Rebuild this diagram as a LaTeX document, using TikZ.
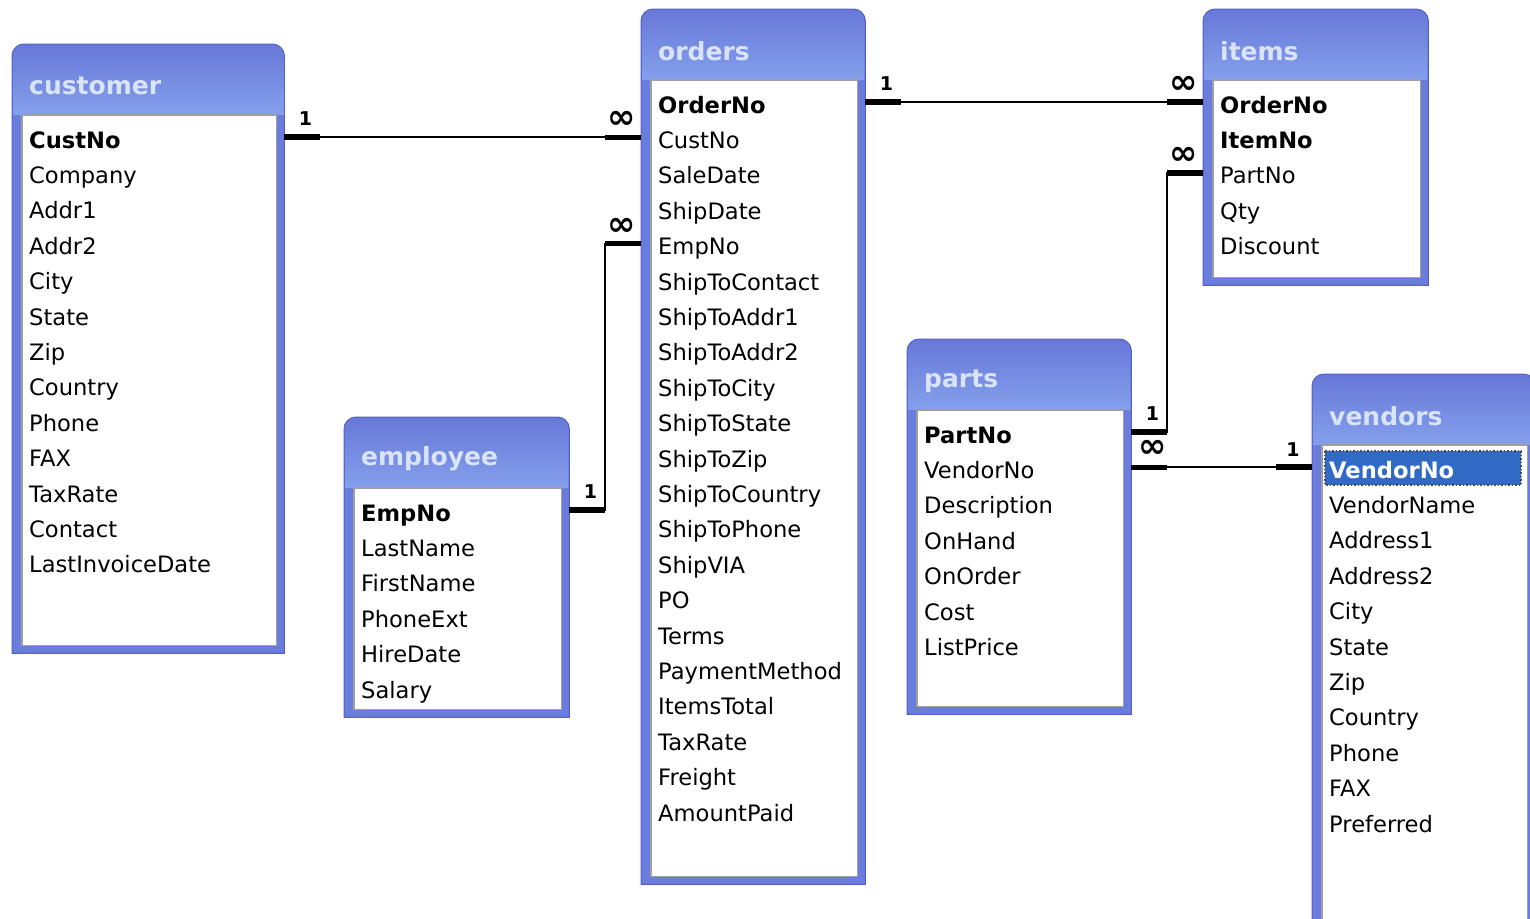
\documentclass[tikz,border=0pt]{standalone}
\usepackage{fontspec}
\setmainfont{DejaVu Sans}
\usetikzlibrary{calc,positioning}

\definecolor{framebody}{RGB}{106,124,220}
\definecolor{frametop}{RGB}{104,120,216}
\definecolor{framelight}{RGB}{132,160,236}
\definecolor{frameedge}{RGB}{84,96,200}
\definecolor{titletext}{RGB}{218,228,248}
\definecolor{selblue}{RGB}{49,106,197}

\tikzset{
	tableframe/.style={rectangle, inner sep=0pt, draw=none, anchor=north west},
	tabletitle/.style={anchor=west, inner sep=0pt, text=titletext, font=\fontsize{25}{30}\selectfont\bfseries},
	field/.style={anchor=west, inner sep=0pt, text height=24pt, text depth=2pt, font=\fontsize{22.6}{27}\selectfont},
	keyfield/.style={field, font=\fontsize{22.6}{27}\selectfont\bfseries},
	relline/.style={line width=2pt},
	relend/.style={line width=5.5pt},
	card/.style={inner sep=0pt, font=\fontsize{19}{20}\selectfont\bfseries}
}

% frame of one table: name, x, y, width, height, title
\newcommand{\dbframe}[6]{
	\node[tableframe, minimum width=#4pt, minimum height=#5pt] (#1) at (#2,#3) {};
	\filldraw[fill=framebody, draw=frameedge, line width=1pt] (#1.south west) [rounded corners=12pt] -- (#1.north west) -- (#1.north east) [sharp corners] -- (#1.south east) -- cycle;
	\shade[top color=frametop, bottom color=framelight] ($(#1.north west)+(1,71)$) [rounded corners=11pt] -- ($(#1.north west)+(1,1)$) -- ($(#1.north east)+(-1,1)$) [sharp corners] -- ($(#1.north east)+(-1,71)$) -- cycle;
	\node[tabletitle] (#1-title) at ($(#1.north west)+(17,42)$) {#6};
	\draw[fill=white, draw=gray!75, line width=1.5pt] ($(#1.north west)+(10,71)$) coordinate (#1-inner) rectangle ($(#1.south east)+(-8,-8)$);
}

% rows of one table: key style, name, number of keys, fields
\newcommand{\dbfields}[4][]{
	\foreach \f [count=\i] in {#4}
	{
		\ifnum\i>#3
			\node[field] (#2-\i) at ($(#2-inner)+(7,{22+35.4*(\i-1)})$) {\f};
		\else
			\node[keyfield, #1] (#2-\i) at ($(#2-inner)+(7,{22+35.4*(\i-1)})$) {\f};
		\fi
	}
}

\newcommand{\many}{{\fontsize{34}{34}\selectfont ∞}}

\begin{document}
\begin{tikzpicture}[x=1pt, y=-1pt]
	\useasboundingbox (0,0) rectangle (1530,918);
	\clip (0,0) rectangle (1530,918);

	\dbframe{customer}{12}{44}{272}{609}{customer}
	\dbframe{orders}{641}{9}{224}{875}{orders}
	\dbframe{items}{1203}{9}{225}{276}{items}
	\dbframe{employee}{344}{417}{225}{300}{employee}
	\dbframe{parts}{907}{339}{224}{375}{parts}
	\dbframe{vendors}{1312}{374}{223}{560}{vendors}

	\dbfields{customer}{1}{CustNo, Company, Addr1, Addr2, City, State, Zip, Country, Phone, FAX, TaxRate, Contact, LastInvoiceDate}
	\dbfields{orders}{1}{OrderNo, CustNo, SaleDate, ShipDate, EmpNo, ShipToContact, ShipToAddr1, ShipToAddr2, ShipToCity, ShipToState, ShipToZip, ShipToCountry, ShipToPhone, ShipVIA, PO, Terms, PaymentMethod, ItemsTotal, TaxRate, Freight, AmountPaid}
	\dbfields{items}{2}{OrderNo, ItemNo, PartNo, Qty, Discount}
	\dbfields{employee}{1}{EmpNo, LastName, FirstName, PhoneExt, HireDate, Salary}
	\dbfields{parts}{1}{PartNo, VendorNo, Description, OnHand, OnOrder, Cost, ListPrice}

	% selected row
	\draw[fill=selblue, draw=black!70, dotted, line width=1.5pt] ($(vendors-inner)+(3,6)$) rectangle ($(vendors-inner)+(199,40)$);
	\dbfields[text=white]{vendors}{1}{VendorNo, VendorName, Address1, Address2, City, State, Zip, Country, Phone, FAX, Preferred}

	% relationships
	\foreach \src/\srow/\dst/\drow/\csrc/\cdst in
	{customer/1/orders/2/1/\many, employee/1/orders/5/1/\many, orders/1/items/1/1/\many, parts/1/items/3/1/\many, parts/2/vendors/1/\many/1}
	{
		\draw[relline] (\src-\srow -| \src.east) -- ++(36,0) |- (\dst-\drow -| \dst.west);
		\draw[relend] (\src-\srow -| \src.east) -- ++(36,0);
		\draw[relend] (\dst-\drow -| \dst.west) -- ++(-36,0);
		\node[card] (\src-\srow-card) at ($(\src-\srow -| \src.east)+(21,-18)$) {\csrc};
		\node[card] (\dst-\drow-card) at ($(\dst-\drow -| \dst.west)+(-19,-17)$) {\cdst};
	}
\end{tikzpicture}
\end{document}
